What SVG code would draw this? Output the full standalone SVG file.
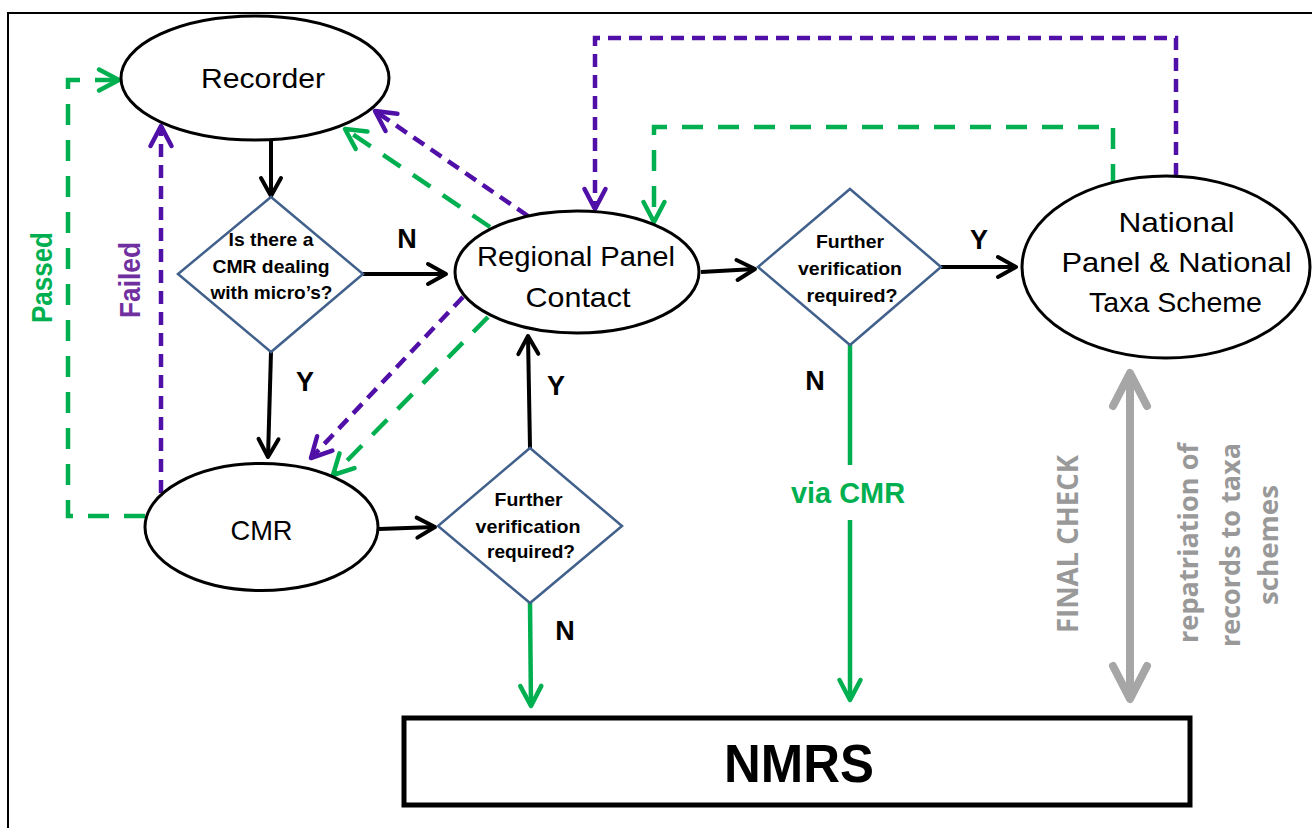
<svg xmlns="http://www.w3.org/2000/svg" width="1312" height="828" viewBox="0 0 1312 828">
<style>
.node{fill:#fff;stroke:#000;stroke-width:3}
.dia{fill:#fff;stroke:#41618C;stroke-width:2.5}
.t{font-family:"Liberation Sans",Arial,sans-serif;fill:#000;text-anchor:middle}
.big{font-size:28px}
.dt{font-size:18.5px;font-weight:bold}
.lb{font-size:27px;font-weight:bold}
.side{font-family:"Open Sans","Liberation Sans",sans-serif;font-weight:bold;fill:#999;text-anchor:middle}
.blk{fill:none;stroke:#000;stroke-width:4}
.grn{fill:none;stroke:#00B050;stroke-width:4.5}
.grd{fill:none;stroke:#00B050;stroke-width:4.5;stroke-dasharray:21 15}
.prd{fill:none;stroke:#5010A8;stroke-width:4.5;stroke-dasharray:13 8}
.gry{fill:none;stroke:#A6A6A6;stroke-width:8}
</style>
<defs>
<marker id="ab" viewBox="-24 -14 30 28" refX="0" refY="0" markerWidth="30" markerHeight="28" orient="auto" markerUnits="userSpaceOnUse" overflow="visible"><path d="M-18,-10 L0,0 L-18,10" fill="none" stroke="#000" stroke-width="4" stroke-linecap="round" stroke-linejoin="round"/></marker>
<marker id="ag" viewBox="-24 -14 30 28" refX="0" refY="0" markerWidth="30" markerHeight="28" orient="auto" markerUnits="userSpaceOnUse" overflow="visible"><path d="M-20,-10.5 L0,0 L-20,10.5" fill="none" stroke="#00B050" stroke-width="4.5" stroke-linecap="round" stroke-linejoin="round"/></marker>
<marker id="ap" viewBox="-24 -14 30 28" refX="0" refY="0" markerWidth="30" markerHeight="28" orient="auto" markerUnits="userSpaceOnUse" overflow="visible"><path d="M-20,-10.5 L0,0 L-20,10.5" fill="none" stroke="#5010A8" stroke-width="4.5" stroke-linecap="round" stroke-linejoin="round"/></marker>
<marker id="ay" viewBox="-40 -22 46 44" refX="0" refY="0" markerWidth="46" markerHeight="44" orient="auto" markerUnits="userSpaceOnUse" overflow="visible"><path d="M-33,-17 L0,0 L-33,17" fill="none" stroke="#A6A6A6" stroke-width="8" stroke-linecap="round" stroke-linejoin="round"/></marker>
</defs>
<rect width="1312" height="828" fill="#fff"/>
<path d="M8,828 V13 H1312" fill="none" stroke="#000" stroke-width="2"/>

<g id="connectors">
<path class="blk" d="M271,140 L271,196" marker-end="url(#ab)"/>
<path class="blk" d="M363,274 L446,274" marker-end="url(#ab)"/>
<path class="blk" d="M271,352 L268,457" marker-end="url(#ab)"/>
<path class="blk" d="M379,529 L435,527" marker-end="url(#ab)"/>
<path class="blk" d="M530,448 L528,336" marker-end="url(#ab)"/>
<path class="blk" d="M701,272 L755,269" marker-end="url(#ab)"/>
<path class="blk" d="M941,267 L1016,267" marker-end="url(#ab)"/>
<path class="grn" d="M530,603 L531,706" marker-end="url(#ag)"/>
<path class="grn" d="M850,345 L850,465"/>
<path class="grn" d="M850,520 L850,700" marker-end="url(#ag)"/>
<path class="prd" d="M528,216 L375,111" marker-end="url(#ap)"/>
<path class="grd" d="M490,227 L345,129" marker-end="url(#ag)"/>
<path class="prd" d="M463,297 L311,458" marker-end="url(#ap)"/>
<path class="grd" d="M488,317 L333,475" marker-end="url(#ag)"/>
<path class="prd" d="M161,493 V126" marker-end="url(#ap)"/>
<path class="grd" d="M145,516 H68 V80 H119" marker-end="url(#ag)"/>
<path class="prd" d="M1176,176 V38 H595 V209" marker-end="url(#ap)"/>
<path class="grd" d="M1113,185 V127 H654 V222" marker-end="url(#ag)"/>
<path class="gry" d="M1130,540 V373" marker-end="url(#ay)"/>
<path class="gry" d="M1130,540 V699" marker-end="url(#ay)"/>
<text class="t lb" x="407" y="248">N</text>
<text class="t lb" x="305" y="391">Y</text>
<text class="t lb" x="556" y="395">Y</text>
<text class="t lb" x="565" y="640">N</text>
<text class="t lb" x="979" y="249">Y</text>
<text class="t lb" x="815" y="390">N</text>
<text class="t" x="848" y="503" font-size="29" font-weight="bold" fill="#00B050" style="fill:#00B050" textLength="114" lengthAdjust="spacingAndGlyphs">via CMR</text>
<text class="t" transform="translate(52,277.5) rotate(-90)" font-size="29" font-weight="bold" style="fill:#00B050" textLength="91" lengthAdjust="spacingAndGlyphs">Passed</text>
<text class="t" transform="translate(140,280) rotate(-90)" font-size="29" font-weight="bold" style="fill:#7030A0" textLength="76" lengthAdjust="spacingAndGlyphs">Failed</text>
<text class="side" transform="translate(1078,544) rotate(-90)" font-size="29" textLength="178" lengthAdjust="spacingAndGlyphs">FINAL CHECK</text>
<text class="side" transform="translate(1198,543) rotate(-90)" font-size="26" textLength="200" lengthAdjust="spacingAndGlyphs">repatriation of</text>
<text class="side" transform="translate(1240,545) rotate(-90)" font-size="26" textLength="204" lengthAdjust="spacingAndGlyphs">records to taxa</text>
<text class="side" transform="translate(1278,545) rotate(-90)" font-size="26" textLength="120" lengthAdjust="spacingAndGlyphs">schemes</text>
</g>

<g id="recorder">
<ellipse class="node" cx="255" cy="78" rx="134" ry="62"/>
<text class="t big" x="263" y="88" textLength="124" lengthAdjust="spacingAndGlyphs">Recorder</text>
</g>

<g id="decision-cmr-micros">
<path class="dia" d="M271,197 L363,274 L271,352 L178,274 Z"/>
<text class="t dt" x="271" y="246" textLength="85" lengthAdjust="spacingAndGlyphs">Is there a</text>
<text class="t dt" x="271" y="273" textLength="117" lengthAdjust="spacingAndGlyphs">CMR dealing</text>
<text class="t dt" x="271.5" y="299" textLength="122" lengthAdjust="spacingAndGlyphs">with micro’s?</text>
</g>

<g id="regional-panel-contact">
<ellipse class="node" cx="577" cy="272" rx="122" ry="61"/>
<text class="t big" x="576" y="266" textLength="198" lengthAdjust="spacingAndGlyphs">Regional Panel</text>
<text class="t big" x="578" y="307" textLength="105" lengthAdjust="spacingAndGlyphs">Contact</text>
</g>

<g id="decision-further-1">
<path class="dia" d="M850,189 L941,267 L850,345 L758,267 Z"/>
<text class="t dt" x="850" y="248" textLength="68" lengthAdjust="spacingAndGlyphs">Further</text>
<text class="t dt" x="850" y="275" textLength="104" lengthAdjust="spacingAndGlyphs">verification</text>
<text class="t dt" x="852" y="302" textLength="91" lengthAdjust="spacingAndGlyphs">required?</text>
</g>

<g id="national-panel">
<ellipse class="node" cx="1166" cy="267" rx="144" ry="91"/>
<text class="t big" x="1176.5" y="232" textLength="116" lengthAdjust="spacingAndGlyphs">National</text>
<text class="t big" x="1176.5" y="272" textLength="230" lengthAdjust="spacingAndGlyphs">Panel &amp; National</text>
<text class="t big" x="1175.5" y="312" textLength="173" lengthAdjust="spacingAndGlyphs">Taxa Scheme</text>
</g>

<g id="cmr">
<ellipse class="node" cx="261.5" cy="527" rx="116.5" ry="63.5"/>
<text class="t big" x="261.5" y="540" textLength="62" lengthAdjust="spacingAndGlyphs">CMR</text>
</g>

<g id="decision-further-2">
<path class="dia" d="M530,448 L622,526 L530,603 L438,526 Z"/>
<text class="t dt" x="528.6" y="506" textLength="68" lengthAdjust="spacingAndGlyphs">Further</text>
<text class="t dt" x="528" y="532.7" textLength="105" lengthAdjust="spacingAndGlyphs">verification</text>
<text class="t dt" x="531" y="558" textLength="88" lengthAdjust="spacingAndGlyphs">required?</text>
</g>

<g id="nmrs">
<rect x="404" y="718" width="786" height="87" fill="#fff" stroke="#000" stroke-width="5"/>
<text class="t" x="799" y="782" font-size="53" font-weight="bold" textLength="150" lengthAdjust="spacingAndGlyphs">NMRS</text>
</g>
</svg>
